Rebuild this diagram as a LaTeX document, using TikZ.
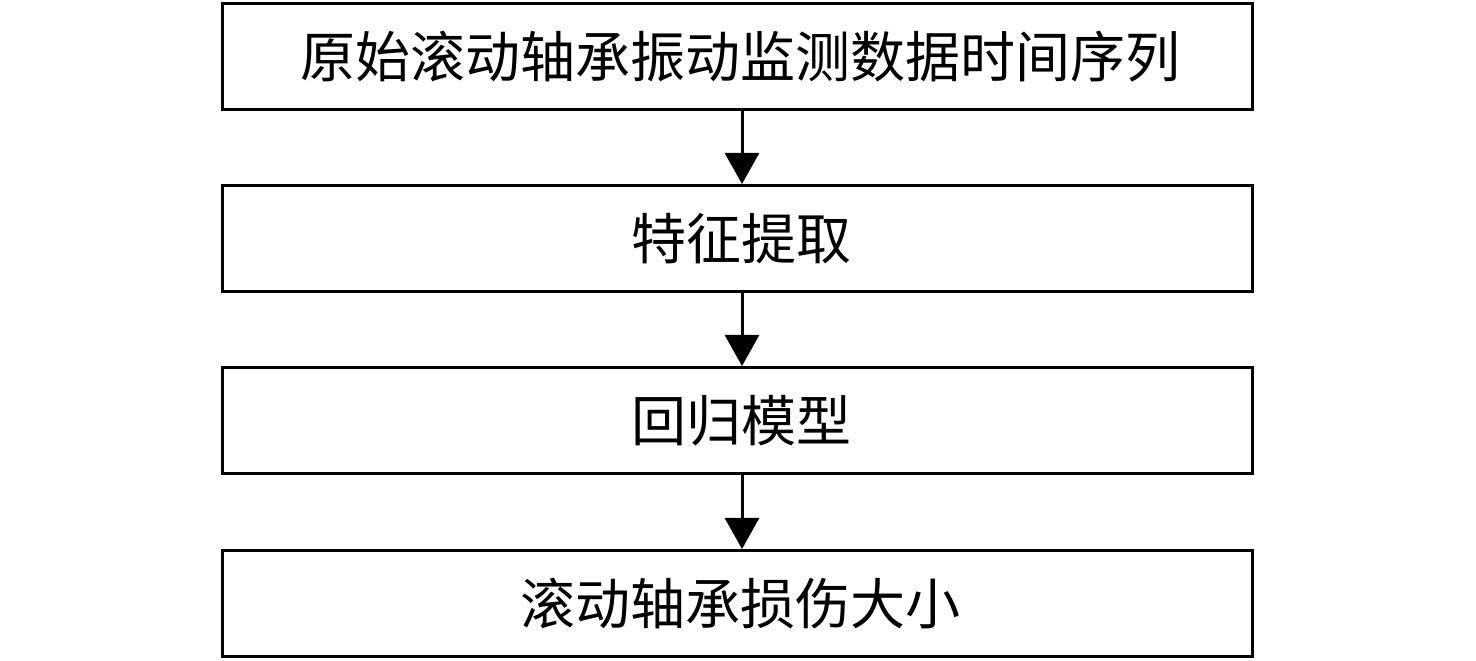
\documentclass[tikz,border=0pt]{standalone}
\usepackage{fontspec}
\newfontfamily\cjk{Noto Sans CJK SC}
\usetikzlibrary{arrows.meta}
\tikzset{
  stepbox/.style={draw=black, line width=3pt, minimum width=1030pt, minimum height=106pt, inner sep=0pt, font=\cjk\fontsize{55pt}{66pt}\selectfont, anchor=center},
  flow/.style={line width=3pt, -{Triangle[width=34pt,length=31pt]}}
}
\begin{document}
\begin{tikzpicture}[x=1pt,y=1pt]
\useasboundingbox (0,0) rectangle (1476,661);
\node[stepbox] (a) at (737.5,604.5) {\hspace*{6pt}原始滚动轴承振动监测数据时间序列};
\node[stepbox] (b) at (737.5,422.5) {\hspace*{8pt}特征提取};
\node[stepbox] (c) at (737.5,240.5) {\hspace*{8pt}回归模型};
\node[stepbox] (d) at (737.5,57.5) {\hspace*{6pt}滚动轴承损伤大小};
\draw[flow] (a.south -| 742,0) -- (b.north -| 742,0);
\draw[flow] (b.south -| 742,0) -- (c.north -| 742,0);
\draw[flow] (c.south -| 742,0) -- (d.north -| 742,0);
\end{tikzpicture}
\end{document}
